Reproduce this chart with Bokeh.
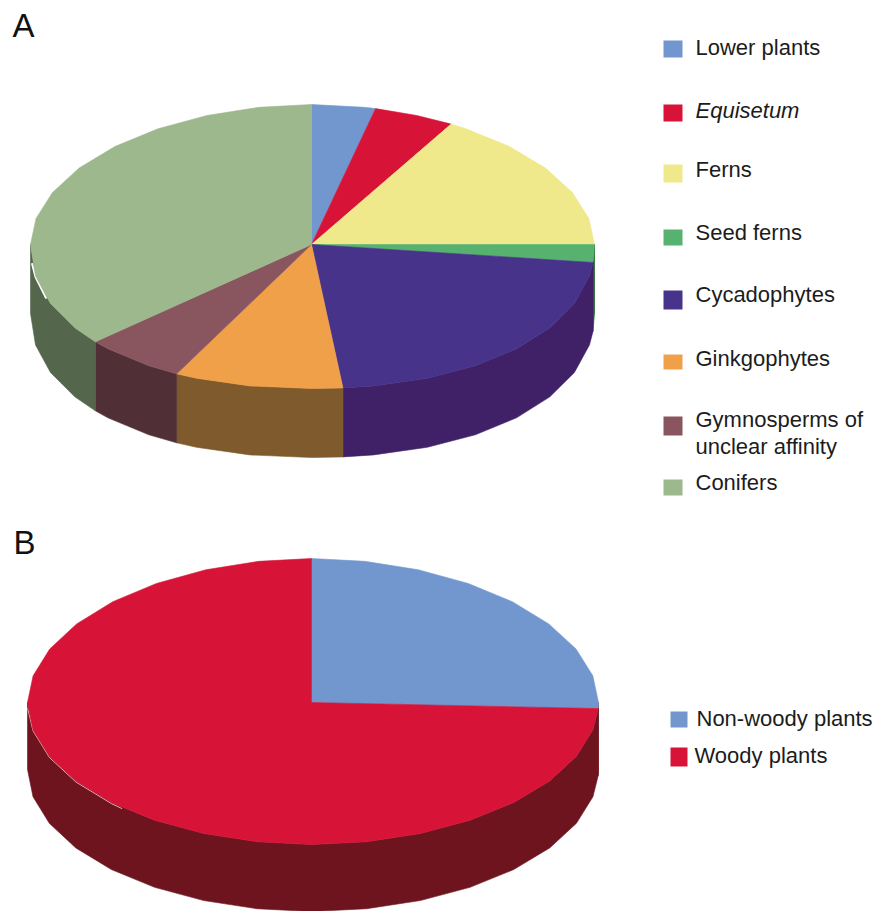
import math

from bokeh.core.properties import value
from bokeh.embed import file_html
from bokeh.models import ColumnDataSource, Range1d
from bokeh.plotting import figure
from bokeh.resources import INLINE

# Share of each plant group, in percent
groups_a = ["Lower plants", "Equisetum", "Ferns", "Seed ferns", "Cycadophytes",
            "Ginkgophytes", "Gymnosperms of\nunclear affinity", "Conifers"]
shares_a = [3.8, 4.6, 16.6, 1.7, 21.8, 9.0, 6.1, 36.4]
top_colors_a = ["#7197CE", "#D71437", "#EFE98B", "#58B26F", "#47338A",
                "#F1A04A", "#89555E", "#9DB88D"]
side_colors_a = ["#4A6590", "#8E1026", "#9E9A5A", "#1F6B3A", "#402168",
                 "#7F5A2C", "#503036", "#54664C"]

groups_b = ["Non-woody plants", "Woody plants"]
shares_b = [25.7, 74.3]
top_colors_b = ["#7197CE", "#D71437"]
side_colors_b = ["#6D141F", "#6D141F"]

FONT = "Liberation Sans"
LABEL_PX = 22
LETTER_PX = 33
BASELINE_SHIFT = 0.36  # raises the text so its baseline lands on the given y
FACET = 11.25  # the discs are faceted rather than smooth


def rim(theta, disc):
    """Point on a disc's rim; theta runs clockwise in degrees from the back."""
    s, c = math.sin(math.radians(theta)), math.cos(math.radians(theta))
    bend = disc["bend_back"] if c >= 0 else disc["bend_front"]
    rx = disc["rx_right"] if s >= 0 else disc["rx_left"]
    ry = disc["ry_back"] if c >= 0 else disc["ry_front"]
    x = disc["cx"] + math.copysign(abs(s) ** bend, s) * rx
    y = disc["cy"] - math.copysign(abs(c) ** bend, c) * ry
    return x, y


def arc_angles(start, end):
    inner = []
    k = math.floor(start / FACET) + 1
    while k * FACET < end - 0.01:
        inner.append(k * FACET)
        k += 1
    return [start] + inner + [end]


def draw_disc(p, shares, top_colors, side_colors, disc):
    total = sum(shares)
    side = dict(xs=[], ys=[], color=[])
    top = dict(xs=[], ys=[], color=[])
    start = 0.0
    for share, top_color, side_color in zip(shares, top_colors, side_colors):
        end = start + 360.0 * share / total
        pts = [rim(t, disc) for t in arc_angles(start, end)]
        top["xs"].append([disc["cx"]] + [q[0] for q in pts])
        top["ys"].append([disc["cy"]] + [q[1] for q in pts])
        top["color"].append(top_color)

        lo, hi = max(start, 90.0), min(end, 270.0)
        if lo < hi:
            front = [rim(t, disc) for t in arc_angles(lo, hi)]
            side["xs"].append([q[0] for q in front] + [q[0] for q in reversed(front)])
            side["ys"].append([q[1] for q in front]
                              + [q[1] + disc["depth"] for q in reversed(front)])
            side["color"].append(side_color)
        start = end
    p.patches("xs", "ys", source=ColumnDataSource(side), fill_color="color",
              line_color="color", line_width=0.6)
    # thin pale seam where the top face parts from the wall on the left
    seam = [rim(t, disc) for t in arc_angles(*disc["seam"])]
    p.line([q[0] for q in seam], [q[1] + 1 for q in seam], line_color=disc["seam_color"],
           line_width=disc["seam_width"])
    p.patches("xs", "ys", source=ColumnDataSource(top), fill_color="color",
              line_color="color", line_width=0.6)


def draw_key(p, colors, labels, boxes, text_x, baselines, italic, line_gap):
    p.quad(left=[b[0] for b in boxes], right=[b[1] for b in boxes],
           top=[b[2] for b in boxes], bottom=[b[3] for b in boxes],
           fill_color=colors, line_color=None)
    rows = dict(x=[], y=[], text=[], style=[])
    for label, x, y in zip(labels, text_x, baselines):
        for n, row in enumerate(label.split("\n")):
            rows["x"].append(x)
            rows["y"].append(y + n * line_gap)
            rows["text"].append(row)
            rows["style"].append("italic" if label in italic else "normal")
    p.text("x", "y", text="text", source=ColumnDataSource(rows), text_font=value(FONT),
           text_font_size=f"{LABEL_PX}px", text_font_style="style", text_color="#1c1c1c",
           text_baseline="alphabetic", text_align="left",
           y_offset=-BASELINE_SHIFT * LABEL_PX)


p = figure(width=887, height=911, output_backend="svg", toolbar_location=None,
           x_range=Range1d(0, 887), y_range=Range1d(911, 0),
           min_border=0, outline_line_color=None, background_fill_color="white",
           border_fill_color="white")
p.axis.visible = False
p.grid.visible = False

disc_a = dict(cx=311, cy=244, rx_left=281, rx_right=283, ry_back=140, ry_front=144, depth=69,
              bend_back=1.03, bend_front=0.93, seam=(250, 264), seam_color="#FFFFFF", seam_width=2)
disc_b = dict(cx=311, cy=702, rx_left=284, rx_right=287, ry_back=144, ry_front=142, depth=67,
              bend_back=1.03, bend_front=1.01, seam=(222, 268), seam_color="#E8B0B4", seam_width=1)
draw_disc(p, shares_a, top_colors_a, side_colors_a, disc_a)
draw_disc(p, shares_b, top_colors_b, side_colors_b, disc_b)

boxes_a = [(663, 682, 40, 57), (663, 682, 104, 121), (663, 682, 164, 182), (663, 682, 229, 245),
           (663, 682, 290, 309), (663, 682, 354, 369), (663, 682, 416, 435), (663, 682, 479, 495)]
draw_key(p, top_colors_a, groups_a, boxes_a, [695] * 8,
         [55, 118, 177, 240, 302, 366, 427, 490], {"Equisetum"}, 27)

boxes_b = [(670, 687, 711, 727), (670, 687, 747, 766)]
draw_key(p, top_colors_b, groups_b, boxes_b, [696, 694], [726, 763], set(), 0)

p.text([12, 13], [37, 554], text=["A", "B"], text_font=value(FONT),
       text_font_size=f"{LETTER_PX}px", text_color="#111111", text_baseline="alphabetic",
       text_align="left", y_offset=-BASELINE_SHIFT * LETTER_PX)

open("out.html", "w").write(file_html(p, INLINE))
